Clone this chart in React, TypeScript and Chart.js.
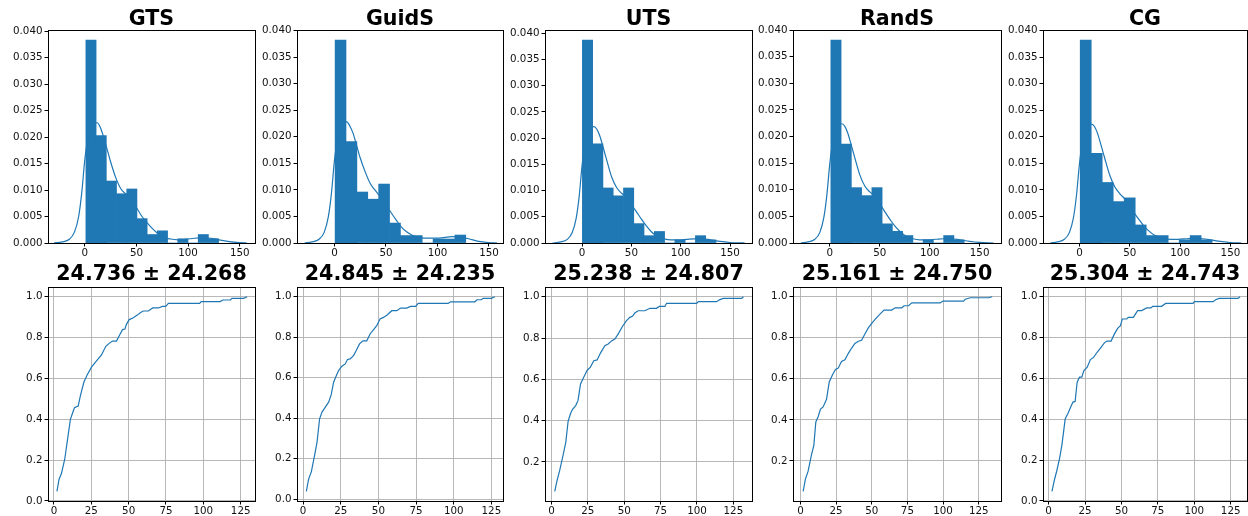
import React, { useEffect, useRef } from 'react';
import { Chart, registerables } from 'chart.js';

Chart.register(...registerables);

// ---------------- data ----------------
const methodNames = ['GTS', 'GuidS', 'UTS', 'RandS', 'CG'];
const meanStdLabels = ['24.736 ± 24.268', '24.845 ± 24.235', '25.238 ± 24.807', '25.161 ± 24.750', '25.304 ± 24.743'];

// histogram (density) per method: first bin edge, bin width, bar heights
const histStarts = [1.0, 0.6, 0.3, 1.0, 0.7];
const histBinWidths = [9.89, 10.57, 10.42, 10.27, 10.93];
const gtsHist = [0.0383, 0.0203, 0.0117, 0.0093, 0.0102, 0.0046, 0.0016, 0.0023, 0, 0.0008, 0, 0.0016, 0.0008];
const guidsHist = [0.0382, 0.0191, 0.0096, 0.00825, 0.0111, 0.00375, 0.0014, 0.0014, 0, 0.00075, 0.00075, 0.0015];
const utsHist = [0.0387, 0.0189, 0.0105, 0.009, 0.0105, 0.0037, 0.0014, 0.0022, 0, 0.0006, 0, 0.0014, 0.0006];
const randsHist = [0.0381, 0.0186, 0.0104, 0.0089, 0.0104, 0.0036, 0.0022, 0.0014, 0, 0.0006, 0, 0.0014, 0.0006];
const cgHist = [0.0382, 0.0169, 0.0114, 0.0078, 0.0085, 0.0034, 0.0014, 0.0014, 0, 0.0006, 0.0014, 0.0006];

// kernel density curves [x, density]
const gtsKde = [[-30, 0], [-22, 0.0002], [-15, 0.0007], [-10, 0.0021], [-6, 0.005], [-3, 0.0095], [0, 0.0158], [3, 0.0198], [6, 0.0217], [9, 0.0225], [12, 0.0227], [15, 0.0218], [18, 0.0201], [21, 0.0181], [25, 0.0153], [30, 0.0123], [35, 0.0102], [40, 0.0092], [45, 0.0082], [50, 0.0067], [55, 0.0051], [60, 0.0039], [65, 0.0028], [70, 0.0019], [76, 0.0011], [83, 0.00075], [90, 0.0006], [98, 0.0007], [106, 0.0009], [114, 0.001], [122, 0.0009], [130, 0.0006], [140, 0.00025], [150, 0.00006], [157, 0]];
const guidsKde = [[-29, 0], [-22, 0.0002], [-15, 0.0007], [-10, 0.002], [-6, 0.0049], [-3, 0.0093], [0, 0.0156], [3, 0.0197], [6, 0.0217], [9, 0.0226], [12, 0.0228], [15, 0.022], [18, 0.0207], [21, 0.0187], [25, 0.016], [30, 0.0133], [35, 0.0111], [40, 0.0098], [45, 0.0086], [50, 0.0072], [55, 0.0057], [60, 0.0043], [65, 0.003], [70, 0.0021], [76, 0.0014], [83, 0.001], [90, 0.0009], [98, 0.0009], [106, 0.001], [114, 0.0012], [122, 0.0011], [130, 0.0008], [140, 0.0003], [150, 0.00008], [158, 0]];
const utsKde = [[-30, 0], [-22, 0.0002], [-15, 0.0007], [-10, 0.002], [-6, 0.0047], [-3, 0.0088], [0, 0.0148], [3, 0.019], [6, 0.021], [9, 0.0219], [12, 0.0222], [15, 0.0217], [18, 0.0204], [21, 0.0185], [25, 0.0158], [30, 0.0126], [35, 0.0106], [40, 0.0095], [45, 0.0087], [50, 0.0073], [55, 0.006], [60, 0.0046], [65, 0.0033], [70, 0.0022], [76, 0.0013], [83, 0.0008], [90, 0.0006], [98, 0.0006], [106, 0.0007], [114, 0.0008], [122, 0.0008], [130, 0.0006], [140, 0.0003], [150, 0.0001], [158, 0.00002], [165, 0]];
const randsKde = [[-29, 0], [-22, 0.0002], [-15, 0.0007], [-10, 0.002], [-6, 0.0048], [-3, 0.009], [0, 0.015], [3, 0.0192], [6, 0.0212], [9, 0.0221], [12, 0.0224], [15, 0.0219], [18, 0.0206], [21, 0.0187], [25, 0.016], [30, 0.0128], [35, 0.0107], [40, 0.0096], [45, 0.0088], [50, 0.0074], [55, 0.0059], [60, 0.0045], [65, 0.0032], [70, 0.0022], [76, 0.0013], [83, 0.0008], [90, 0.0006], [98, 0.0006], [106, 0.0007], [114, 0.0008], [122, 0.0008], [130, 0.0006], [140, 0.0003], [150, 0.0001], [164, 0]];
const cgKde = [[-29, 0], [-22, 0.0002], [-15, 0.0007], [-10, 0.002], [-6, 0.0048], [-3, 0.009], [0, 0.015], [3, 0.0192], [6, 0.0212], [9, 0.0221], [12, 0.0224], [15, 0.0219], [18, 0.0206], [21, 0.0187], [25, 0.016], [30, 0.0128], [35, 0.0106], [40, 0.0093], [45, 0.0083], [50, 0.007], [55, 0.0055], [60, 0.0042], [65, 0.003], [70, 0.0021], [76, 0.0013], [83, 0.0009], [90, 0.0007], [98, 0.0007], [106, 0.0008], [114, 0.0009], [122, 0.0008], [130, 0.0006], [140, 0.0003], [150, 0.00008], [161, 0]];

// cumulative distribution curves [x, fraction]
const gtsCdf = [[2.0, 0.047], [3.4, 0.106], [5.0, 0.134], [7.2, 0.204], [9.0, 0.296], [11.0, 0.399], [12.3, 0.427], [13.7, 0.456], [16.2, 0.464], [17.7, 0.516], [20.0, 0.581], [22.2, 0.617], [25.1, 0.655], [27.4, 0.676], [29.6, 0.695], [31.8, 0.715], [34.7, 0.757], [37.4, 0.774], [39.2, 0.783], [41.9, 0.783], [43.7, 0.809], [45.9, 0.839], [47.5, 0.842], [48.6, 0.866], [50.4, 0.888], [53.1, 0.897], [55.8, 0.91], [58.0, 0.923], [59.8, 0.93], [63.2, 0.93], [66.1, 0.945], [69.9, 0.945], [72.6, 0.953], [74.8, 0.953], [76.6, 0.967], [97.5, 0.967], [98.6, 0.976], [111.3, 0.976], [113.1, 0.984], [118.1, 0.984], [119.2, 0.992], [127.0, 0.992], [129.3, 1.0]];
const guidsCdf = [[2.2, 0.039], [3.7, 0.099], [5.5, 0.135], [7.7, 0.217], [9.3, 0.282], [11.0, 0.397], [12.6, 0.43], [14.8, 0.455], [17.0, 0.479], [18.7, 0.516], [20.3, 0.578], [22.0, 0.608], [23.6, 0.635], [25.8, 0.657], [28.0, 0.668], [29.5, 0.69], [31.3, 0.693], [33.5, 0.709], [35.3, 0.734], [37.5, 0.767], [39.7, 0.782], [42.3, 0.782], [44.5, 0.816], [47.2, 0.841], [48.9, 0.857], [51.1, 0.89], [53.4, 0.898], [56.0, 0.911], [58.9, 0.931], [62.2, 0.931], [64.8, 0.944], [68.8, 0.944], [71.4, 0.952], [74.7, 0.952], [76.5, 0.967], [96.3, 0.967], [97.9, 0.975], [114.0, 0.975], [115.5, 0.985], [118.4, 0.985], [119.5, 0.992], [125.0, 0.992], [127.2, 1.0]];
const utsCdf = [[2.3, 0.058], [3.9, 0.111], [5.7, 0.159], [8.0, 0.232], [9.9, 0.296], [11.5, 0.398], [13.1, 0.433], [14.4, 0.454], [16.7, 0.473], [18.3, 0.498], [20.0, 0.578], [22.2, 0.61], [24.5, 0.643], [26.8, 0.659], [29.1, 0.69], [31.4, 0.694], [33.7, 0.727], [36.7, 0.763], [39.0, 0.771], [41.3, 0.786], [43.6, 0.795], [45.9, 0.82], [48.9, 0.857], [51.6, 0.884], [53.9, 0.9], [55.7, 0.905], [57.3, 0.921], [59.6, 0.932], [64.2, 0.932], [67.7, 0.944], [72.2, 0.944], [74.1, 0.953], [78.0, 0.953], [79.1, 0.968], [99.8, 0.968], [100.9, 0.976], [113.5, 0.976], [115.4, 0.985], [118.1, 0.992], [130.7, 0.992], [131.9, 1.0]];
const randsCdf = [[1.9, 0.052], [3.5, 0.111], [5.4, 0.15], [7.7, 0.228], [9.4, 0.276], [10.8, 0.39], [12.4, 0.415], [14.1, 0.453], [15.9, 0.463], [18.3, 0.5], [20.2, 0.585], [22.5, 0.62], [24.6, 0.646], [26.5, 0.652], [28.8, 0.685], [31.2, 0.693], [33.5, 0.723], [35.9, 0.75], [38.2, 0.772], [40.6, 0.783], [42.9, 0.788], [45.3, 0.82], [47.6, 0.848], [50.0, 0.87], [52.3, 0.89], [54.6, 0.907], [56.3, 0.919], [58.6, 0.935], [64.0, 0.935], [66.4, 0.946], [71.1, 0.946], [72.7, 0.956], [75.8, 0.956], [78.1, 0.97], [98.0, 0.97], [99.9, 0.979], [114.4, 0.979], [115.6, 0.988], [119.1, 0.995], [132.0, 0.995], [134.4, 1.0]];
const cgCdf = [[2.3, 0.047], [4.1, 0.106], [5.7, 0.15], [7.5, 0.207], [9.1, 0.272], [11.4, 0.402], [13.2, 0.427], [14.8, 0.454], [16.7, 0.484], [18.2, 0.487], [19.6, 0.581], [21.2, 0.606], [22.8, 0.606], [24.2, 0.638], [26.5, 0.655], [28.7, 0.692], [31.0, 0.704], [33.3, 0.728], [35.6, 0.748], [38.3, 0.774], [40.1, 0.783], [42.9, 0.783], [45.2, 0.818], [47.4, 0.845], [49.3, 0.858], [50.6, 0.891], [53.6, 0.891], [54.7, 0.899], [58.2, 0.899], [61.1, 0.932], [63.9, 0.932], [67.3, 0.945], [70.3, 0.945], [71.4, 0.953], [77.6, 0.953], [80.3, 0.967], [99.2, 0.967], [100.0, 0.976], [112.9, 0.976], [114.7, 0.985], [117.0, 0.992], [130.0, 0.992], [131.4, 1.0]];

const histDensities = [gtsHist, guidsHist, utsHist, randsHist, cgHist];
const kdeCurves = [gtsKde, guidsKde, utsKde, randsKde, cgKde];
const cdfCurves = [gtsCdf, guidsCdf, utsCdf, randsCdf, cgCdf];

// axis limits and tick labels
const histXLimits = [[-35.7, 164.8], [-36.4, 163.6], [-37.6, 172.3], [-36.9, 171.4], [-36.3, 166.5]];
const cdfXLimits = [[-4.0, 134.6], [-4.0, 132.7], [-4.4, 137.8], [-5.2, 140.6], [-3.85, 136.2]];
const histXTicks = [0, 50, 100, 150];
const densityTicks = [0, 0.005, 0.01, 0.015, 0.02, 0.025, 0.03, 0.035, 0.04];
const cdfXTicks = [0, 25, 50, 75, 100, 125];
const cdfYTicks = [0, 0.2, 0.4, 0.6, 0.8, 1.0];

// ---------------- layout / style ----------------
const BLUE = '#1f77b4';
const FONT = '"DejaVu Sans", sans-serif';
const TICK_FONT = { family: FONT, size: 10.3 };
const COL_LEFT = [48, 297, 545, 793, 1043];
const COL_RIGHT = [255, 503, 752, 1001, 1247];
const ROW_TOP = [30, 287];
const ROW_BOTTOM = [243, 501];
const PAD_L = 60, PAD_T = 14, PAD_R = 26, PAD_B = 32, Y_W = 44, X_H = 22;

const framePlugin = {
  id: 'frame',
  afterDatasetsDraw(chart: any) {
    const { ctx, chartArea } = chart;
    const { left, top, right, bottom } = chartArea;
    ctx.save();
    ctx.strokeStyle = '#000';
    ctx.lineWidth = 1;
    ctx.strokeRect(Math.round(left) + 0.5, Math.round(top) + 0.5, Math.round(right) - Math.round(left), Math.round(bottom) - Math.round(top));
    ctx.restore();
  },
};

function fixedTicks(values: number[]) {
  return (axis: any) => {
    const eps = 1e-9;
    axis.ticks = values.filter((v) => v >= axis.min - eps && v <= axis.max + eps).map((v) => ({ value: v }));
  };
}

function axisBase(gridOnArea: boolean) {
  return {
    type: 'linear',
    offset: false,
    border: { display: false },
    grid: {
      display: true,
      offset: false,
      drawOnChartArea: gridOnArea,
      drawTicks: true,
      tickLength: 3.5,
      tickColor: '#000',
      tickWidth: 1,
      color: '#b0b0b0',
      lineWidth: 0.9,
    },
  };
}

function commonOptions() {
  return {
    responsive: false,
    animation: false,
    devicePixelRatio: 1,
    events: [],
    layout: { padding: { left: PAD_L - Y_W, top: PAD_T, right: PAD_R, bottom: PAD_B - X_H } },
    plugins: { legend: { display: false }, tooltip: { enabled: false }, title: { display: false } },
  };
}

function histConfig(i: number) {
  const heights = histDensities[i];
  const bars = heights.map((h, k) => ({ x: histStarts[i] + (k + 0.5) * histBinWidths[i], y: h }));
  const kde = kdeCurves[i].map(([x, y]) => ({ x, y }));
  const yMax = Math.max(...heights) * 1.05;
  return {
    type: 'bar',
    data: {
      datasets: [
        { type: 'line', data: kde, borderColor: BLUE, borderWidth: 1.2, pointRadius: 0, fill: false, cubicInterpolationMode: 'monotone', order: 0 },
        { type: 'bar', data: bars, backgroundColor: BLUE, borderWidth: 0, barPercentage: 1, categoryPercentage: 1, order: 1 },
      ],
    },
    options: {
      ...commonOptions(),
      scales: {
        x: {
          ...axisBase(false),
          min: histXLimits[i][0],
          max: histXLimits[i][1],
          afterBuildTicks: fixedTicks(histXTicks),
          afterFit: (s: any) => { s.height = X_H; },
          ticks: { autoSkip: false, maxRotation: 0, padding: 1, color: '#111', font: TICK_FONT, callback: (v: any) => String(v) },
        },
        y: {
          ...axisBase(false),
          min: 0,
          max: yMax,
          afterBuildTicks: fixedTicks(densityTicks),
          afterFit: (s: any) => { s.width = Y_W; },
          ticks: { autoSkip: false, padding: 2, color: '#111', font: TICK_FONT, callback: (v: any) => Number(v).toFixed(3) },
        },
      },
    },
    plugins: [framePlugin],
  };
}

function cdfConfig(i: number) {
  const pts = cdfCurves[i].map(([x, y]) => ({ x, y }));
  const ys = cdfCurves[i].map((p) => p[1]);
  const lo = Math.min(...ys), hi = Math.max(...ys);
  const m = (hi - lo) * 0.05;
  return {
    type: 'line',
    data: {
      datasets: [
        { data: pts, borderColor: BLUE, borderWidth: 1.2, pointRadius: 0, fill: false, tension: 0 },
      ],
    },
    options: {
      ...commonOptions(),
      scales: {
        x: {
          ...axisBase(true),
          min: cdfXLimits[i][0],
          max: cdfXLimits[i][1],
          afterBuildTicks: fixedTicks(cdfXTicks),
          afterFit: (s: any) => { s.height = X_H; },
          ticks: { autoSkip: false, maxRotation: 0, padding: 1, color: '#111', font: TICK_FONT, callback: (v: any) => String(v) },
        },
        y: {
          ...axisBase(true),
          min: lo - m,
          max: hi + m,
          afterBuildTicks: fixedTicks(cdfYTicks),
          afterFit: (s: any) => { s.width = Y_W; },
          ticks: { autoSkip: false, padding: 2, color: '#111', font: TICK_FONT, callback: (v: any) => Number(v).toFixed(1) },
        },
      },
    },
    plugins: [framePlugin],
  };
}

function ChartBox({ makeConfig, left, top, right, bottom }: any) {
  const ref = useRef<HTMLCanvasElement>(null);
  const w = PAD_L + (right - left) + PAD_R;
  const h = PAD_T + (bottom - top) + PAD_B;
  useEffect(() => {
    const chart = new Chart(ref.current as HTMLCanvasElement, makeConfig() as any);
    return () => chart.destroy();
  }, []);
  return (
    <canvas
      ref={ref}
      width={w}
      height={h}
      style={{ position: 'absolute', left: left - PAD_L, top: top - PAD_T, width: w, height: h }}
    />
  );
}

function Title({ text, center, baseline }: any) {
  const fs = 20.6;
  const lh = 24;
  const topPos = baseline - ((lh - 1.164 * fs) / 2 + 0.928 * fs);
  return (
    <div
      style={{
        position: 'absolute',
        left: center - 150,
        width: 300,
        top: topPos,
        textAlign: 'center',
        fontFamily: FONT,
        fontWeight: 'bold',
        fontSize: fs,
        lineHeight: `${lh}px`,
        color: '#000',
        whiteSpace: 'nowrap',
      }}
    >
      {text}
    </div>
  );
}

export default function App() {
  return (
    <div style={{ position: 'absolute', left: 0, top: 0, width: 1248, height: 516, background: '#fff', overflow: 'hidden' }}>
      {methodNames.map((name, i) => (
        <React.Fragment key={name}>
          <ChartBox makeConfig={() => histConfig(i)} left={COL_LEFT[i]} right={COL_RIGHT[i]} top={ROW_TOP[0]} bottom={ROW_BOTTOM[0]} />
          <ChartBox makeConfig={() => cdfConfig(i)} left={COL_LEFT[i]} right={COL_RIGHT[i]} top={ROW_TOP[1]} bottom={ROW_BOTTOM[1]} />
          <Title text={name} center={(COL_LEFT[i] + COL_RIGHT[i]) / 2} baseline={25} />
          <Title text={meanStdLabels[i]} center={(COL_LEFT[i] + COL_RIGHT[i]) / 2} baseline={280} />
        </React.Fragment>
      ))}
    </div>
  );
}
